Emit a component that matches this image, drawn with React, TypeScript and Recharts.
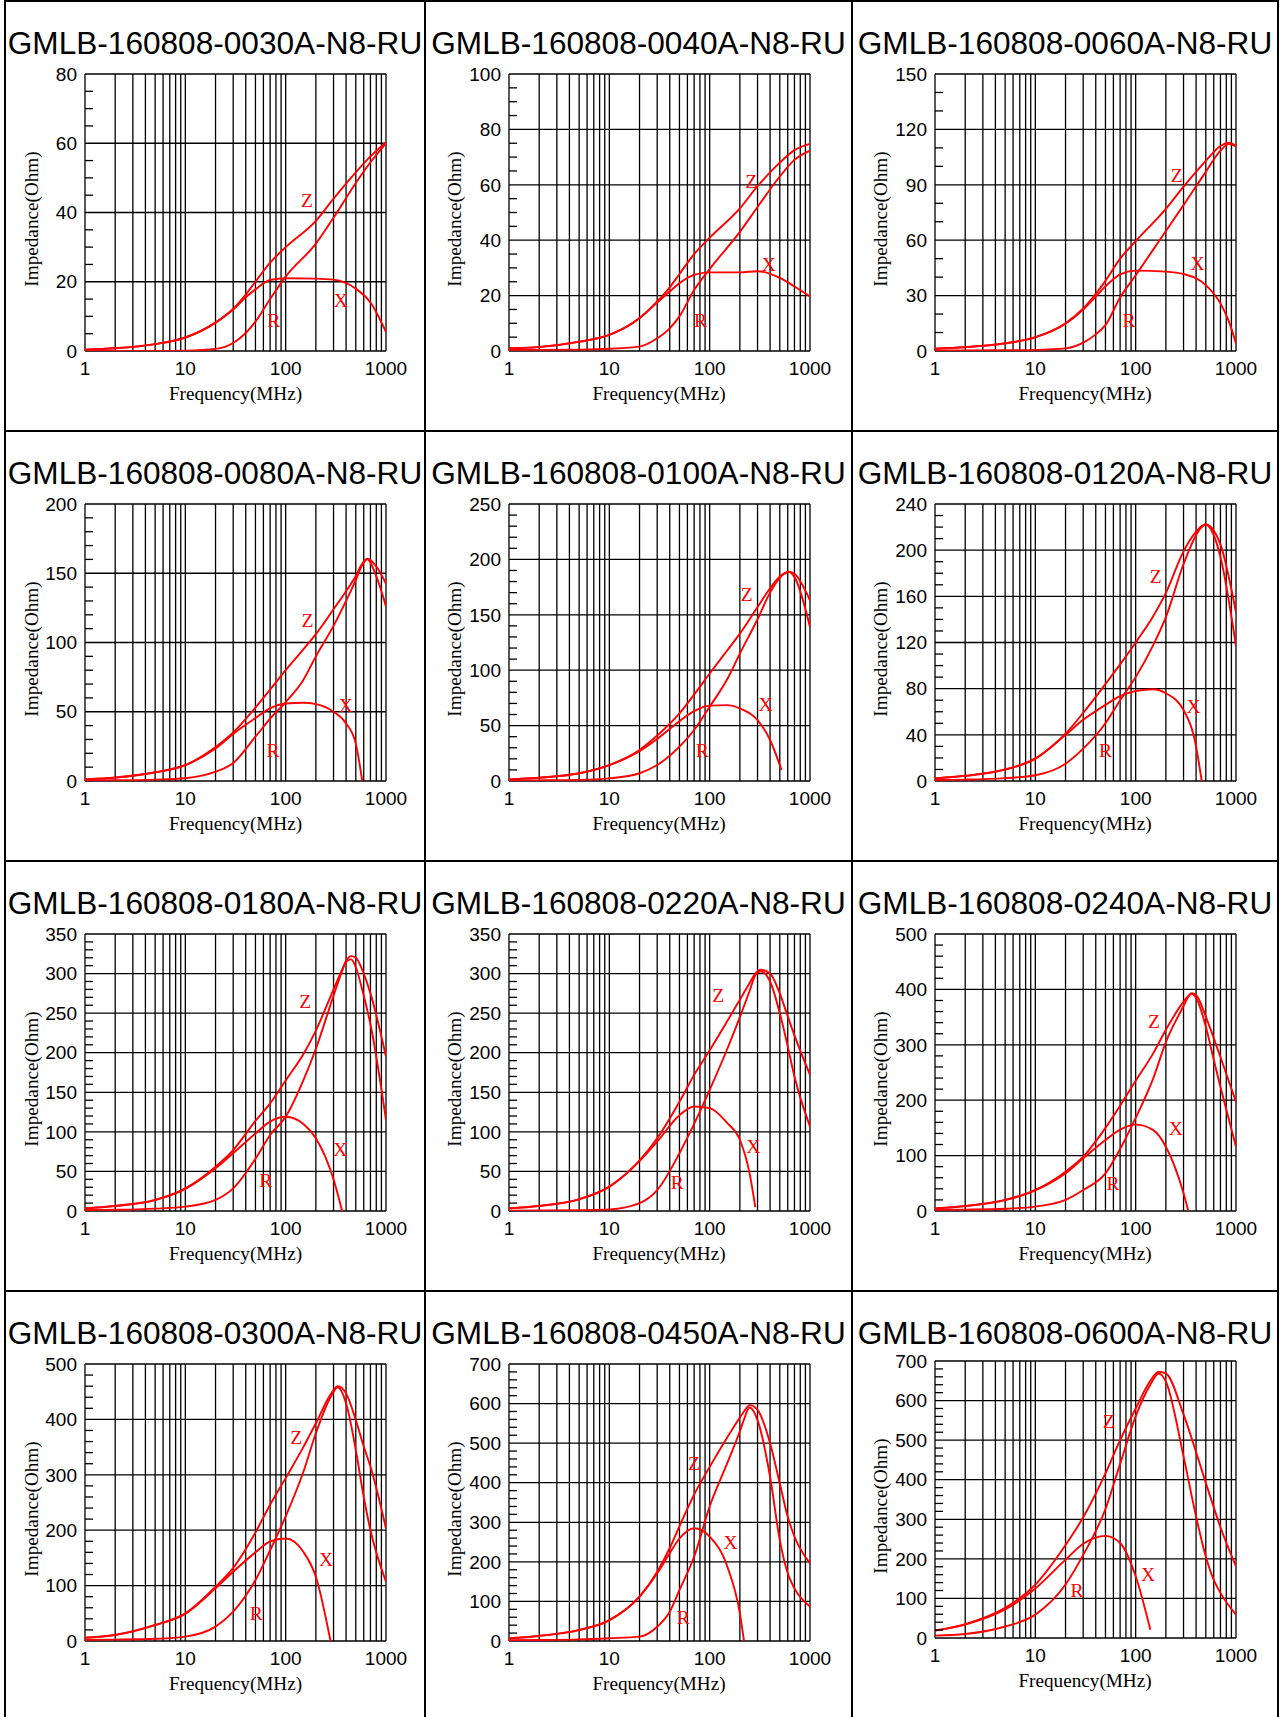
import React from "react"
import { LineChart, Line, XAxis, YAxis, CartesianGrid, ReferenceLine, ReferenceDot } from "recharts"

const SANS = '"Liberation Sans", Arial, sans-serif'
const SERIF = '"Liberation Serif", "Times New Roman", serif'
const RED = "#ff0000"

// log grid: 1..9 of every decade, labels only on decades
const FREQ_GRID = [1, 2, 3, 4, 5, 6, 7, 8, 9, 10, 20, 30, 40, 50, 60, 70, 80, 90, 100, 200, 300, 400, 500, 600, 700, 800, 900, 1000]
const FREQ_LABELS = [1, 10, 100, 1000]

// ---- 0030
const F_0030 = [1, 2, 5, 10, 20, 30, 40, 50, 70, 100, 200, 300, 500, 700, 1000]
const Z_0030 = [0.4, 0.8, 2.0, 3.9, 8.2, 12.2, 16.3, 20, 25.5, 30, 37.6, 44, 51.6, 56.2, 60.3]
const R_0030 = [0, 0, 0, 0.1, 0.6, 2.3, 5.2, 8.5, 15, 21.5, 31, 38.5, 48.5, 54.5, 60]
const X_0030 = [0.4, 0.8, 2.0, 3.9, 8.2, 12, 15.5, 17.8, 20.5, 21, 20.9, 20.6, 18, 14, 5.5]
const LBL_0030 = [[163, 43.6], [76, 9], [355, 14.7]]

// ---- 0040
const F_0040 = [1, 2, 5, 10, 20, 30, 40, 50, 70, 100, 200, 300, 500, 700, 1000]
const Z_0040 = [1.0, 1.5, 3.4, 5.8, 11.9, 17.9, 23, 27.8, 35, 40.9, 51.5, 59.5, 68, 72.5, 74.8]
const R_0040 = [0.4, 0.4, 0.5, 0.8, 1.6, 4.6, 8.2, 12.5, 22, 29.6, 43, 52, 63, 69, 72.3]
const X_0040 = [0.9, 1.4, 3.3, 5.8, 11.8, 17.5, 21.5, 24.5, 27.5, 28.4, 28.4, 28.8, 26.4, 23.3, 19.7]
const LBL_0040 = [[260, 61.4], [81, 11.2], [388, 31.2]]

// ---- 0060
const F_0060 = [1, 2, 5, 10, 20, 30, 40, 50, 70, 100, 200, 300, 500, 700, 850, 1000]
const Z_0060 = [1.3, 2.1, 4.2, 7.5, 15, 23, 31, 38, 50, 59.5, 77, 89, 103, 111, 112.8, 111]
const R_0060 = [0.3, 0.3, 0.4, 0.6, 1.4, 4.5, 9, 14, 29, 41, 65, 79, 97, 108.5, 112, 110.8]
const X_0060 = [1.2, 2.0, 4.1, 7.4, 14.8, 22.5, 29.5, 35, 41.5, 43.5, 43, 41.7, 35.7, 25.8, 16, 4]
const LBL_0060 = [[257, 95.3], [86, 16.8], [414, 47.5]]

// ---- 0080
const F_0080 = [1, 2, 5, 10, 20, 30, 50, 70, 100, 150, 200, 300, 400, 500, 580, 650, 800, 1000]
const Z_0080 = [1.2, 2.5, 6.3, 11.5, 24.5, 35, 53, 66, 80, 95, 106, 124, 137, 148, 157, 160.5, 155, 142.5]
const R_0080 = [0.4, 0.5, 1, 2, 6.7, 13, 32, 45, 57, 73, 90, 112, 130, 145, 156, 160, 148, 126]
const X_0080 = [1.1, 2.4, 6.2, 11.4, 23.5, 34, 45.5, 52.5, 56, 56.5, 55.5, 50, 41.6, 27, 0]
const LBL_0080 = [[165, 116], [75, 22.4], [398, 54.9]]

// ---- 0100
const F_0100 = [1, 2, 5, 10, 20, 30, 50, 70, 100, 150, 200, 300, 400, 520, 620, 700, 1000]
const Z_0100 = [1.5, 3, 7, 14.4, 28, 41, 61, 78, 97, 118, 133, 157, 174, 186, 189, 187, 163]
const R_0100 = [0.5, 0.6, 1, 2.4, 7, 14.4, 31, 46, 67, 92, 115, 146, 170, 185, 188.5, 184, 139]
const X_0100 = [1.4, 2.9, 6.9, 14.3, 27, 38, 54, 63, 68, 68.5, 65.5, 55, 37, 10]
const LBL_0100 = [[234, 168.8], [84.5, 28], [361, 69.5]]

// ---- 0120
const F_0120 = [1, 2, 5, 10, 20, 30, 50, 70, 100, 150, 200, 300, 400, 455, 500, 600, 700, 1000]
const Z_0120 = [2.3, 4.5, 10, 19.6, 41, 59, 84, 101, 120, 143, 163, 199, 216, 221, 222.5, 217, 205, 146]
const R_0120 = [0.9, 1.2, 2.5, 5, 15, 28, 50, 70, 90, 118, 142, 188, 213, 220, 222, 213, 194, 117]
const X_0120 = [2.2, 4.4, 9.8, 19.2, 40, 53, 66, 73.5, 78, 79.5, 76, 61.5, 30, 0]
const LBL_0120 = [[158.5, 177.6], [50, 26.9], [377, 65]]

// ---- 0180
const F_0180 = [1, 2, 5, 10, 20, 30, 50, 70, 100, 150, 200, 300, 365, 400, 450, 500, 600, 700, 1000]
const Z_0180 = [3.4, 6.5, 14, 28.6, 56, 77, 114, 136, 165, 198, 228, 280, 305, 316, 322, 320, 300, 275, 195]
const R_0180 = [1.3, 1.6, 3, 5.5, 14, 28.6, 66, 96, 119, 165, 205, 272, 303, 315, 318, 308, 272, 236, 115]
const X_0180 = [3.2, 6.3, 13.8, 28, 54, 73, 98, 113, 119, 110, 92, 40, 0]
const LBL_0180 = [[156.6, 264.5], [63.5, 39], [350, 78]]

// ---- 0220
const F_0220 = [1, 2, 5, 10, 20, 30, 50, 70, 100, 150, 200, 250, 285, 320, 400, 500, 600, 700, 1000]
const Z_0220 = [3.4, 6.5, 15, 31, 64, 92, 138, 172, 203, 240, 267, 288, 300, 305, 300, 275, 246, 222, 172]
const R_0220 = [0.5, 0.6, 1, 2, 10, 26.5, 73, 110, 153, 205, 245, 278, 298, 303, 290, 250, 208, 170, 106.6]
const X_0220 = [3.3, 6.4, 14.8, 30.5, 63, 87.6, 121, 132, 130, 111, 90, 47.6, 5]
const LBL_0220 = [[122, 273], [47.6, 35.8], [272, 82]]

// ---- 0240
const F_0240 = [1, 2, 5, 10, 20, 30, 50, 70, 100, 150, 200, 300, 335, 360, 400, 500, 600, 700, 1000]
const Z_0240 = [4.8, 9, 20, 38, 71, 98, 150, 190, 235, 285, 327, 378, 388, 393, 390, 351, 312, 278, 197]
const R_0240 = [2, 2.5, 4, 8, 20, 38, 68, 112, 168, 240, 305, 370, 387, 392, 385, 333, 273, 224, 116]
const X_0240 = [4.5, 8.8, 19.6, 37, 68, 95, 128, 147, 156, 146, 116, 32, 0]
const LBL_0240 = [[152.5, 341.8], [59.3, 51], [251, 149]]

// ---- 0300
const F_0300 = [1, 2, 5, 10, 20, 30, 50, 70, 100, 150, 200, 280, 330, 400, 500, 600, 700, 1000]
const Z_0300 = [6, 11, 29, 50, 98, 132, 196, 246, 294, 350, 393, 445, 460, 447, 399, 351, 315, 203]
const R_0300 = [2, 2.5, 4, 8, 26, 53, 110, 164, 225, 305, 375, 440, 458, 429, 345, 260, 200, 107]
const X_0300 = [5.8, 10.8, 28.5, 49, 95, 125, 160, 180, 185, 161, 116, 0]
const LBL_0300 = [[127.4, 368.8], [50.8, 51], [252, 147.4]]

// ---- 0450
const F_0450 = [1, 2, 5, 10, 20, 30, 40, 50, 70, 100, 150, 200, 220, 250, 300, 400, 500, 600, 700, 1000]
const Z_0450 = [7, 13, 28, 53, 112, 175, 235, 290, 370, 440, 515, 565, 580, 596, 584, 500, 398, 314, 264, 196]
const R_0450 = [2, 2.5, 4, 7, 11, 36, 74, 129, 213, 340, 450, 530, 560, 590, 558, 415, 255, 171, 133, 87]
const X_0450 = [6.8, 12.8, 27.5, 52, 112, 171, 222, 259, 285, 264, 188, 70, 0]
const LBL_0450 = [[69.8, 449], [54.7, 59.8], [161.9, 251]]

// ---- 0600
const F_0600 = [1, 2, 5, 10, 20, 30, 50, 70, 100, 140, 170, 200, 300, 400, 500, 600, 700, 1000]
const Z_0600 = [19, 35, 76, 135, 235, 305, 416, 500, 580, 650, 673, 669, 565, 470, 392, 330, 280, 181]
const R_0600 = [6, 10, 29, 59, 135, 210, 326, 440, 560, 640, 668, 648, 459, 307, 206, 147, 114, 59]
const X_0600 = [18.5, 34, 72, 125, 198, 238, 258, 240, 156, 21]
const LBL_0600 = [[53.9, 547], [26, 120], [133, 162]]

const PARTS = [
  { name: "GMLB-160808-0030A-N8-RU", yMax: 80, yMajor: 20, yMinor: 5, f: F_0030, z: Z_0030, r: R_0030, x: X_0030, lbl: LBL_0030 },
  { name: "GMLB-160808-0040A-N8-RU", yMax: 100, yMajor: 20, yMinor: 5, f: F_0040, z: Z_0040, r: R_0040, x: X_0040, lbl: LBL_0040 },
  { name: "GMLB-160808-0060A-N8-RU", yMax: 150, yMajor: 30, yMinor: 10, f: F_0060, z: Z_0060, r: R_0060, x: X_0060, lbl: LBL_0060 },
  { name: "GMLB-160808-0080A-N8-RU", yMax: 200, yMajor: 50, yMinor: 10, f: F_0080, z: Z_0080, r: R_0080, x: X_0080, lbl: LBL_0080 },
  { name: "GMLB-160808-0100A-N8-RU", yMax: 250, yMajor: 50, yMinor: 10, f: F_0100, z: Z_0100, r: R_0100, x: X_0100, lbl: LBL_0100 },
  { name: "GMLB-160808-0120A-N8-RU", yMax: 240, yMajor: 40, yMinor: 10, f: F_0120, z: Z_0120, r: R_0120, x: X_0120, lbl: LBL_0120 },
  { name: "GMLB-160808-0180A-N8-RU", yMax: 350, yMajor: 50, yMinor: 10, f: F_0180, z: Z_0180, r: R_0180, x: X_0180, lbl: LBL_0180 },
  { name: "GMLB-160808-0220A-N8-RU", yMax: 350, yMajor: 50, yMinor: 10, f: F_0220, z: Z_0220, r: R_0220, x: X_0220, lbl: LBL_0220 },
  { name: "GMLB-160808-0240A-N8-RU", yMax: 500, yMajor: 100, yMinor: 20, f: F_0240, z: Z_0240, r: R_0240, x: X_0240, lbl: LBL_0240 },
  { name: "GMLB-160808-0300A-N8-RU", yMax: 500, yMajor: 100, yMinor: 20, f: F_0300, z: Z_0300, r: R_0300, x: X_0300, lbl: LBL_0300 },
  { name: "GMLB-160808-0450A-N8-RU", yMax: 700, yMajor: 100, yMinor: 20, f: F_0450, z: Z_0450, r: R_0450, x: X_0450, lbl: LBL_0450 },
  { name: "GMLB-160808-0600A-N8-RU", yMax: 700, yMajor: 100, yMinor: 20, f: F_0600, z: Z_0600, r: R_0600, x: X_0600, lbl: LBL_0600 },
]

// page layout
const PAGE_W = 1285
const PAGE_H = 1717
const ROW_TOP = [0, 430, 860, 1290]
const COL_LINES = [5, 425, 852, 1278]
const PLOT_LEFT = [85, 508.5, 934.5]
const CHART_DY = [0, 0, 0, 0, 0, 0, 0, 0, 0, 0, 0, -3] // last plot sits a little higher
const PLOT_W = 301
const PLOT_TOP = 74
const PLOT_H = 277
const Y_AXIS_W = 82
const CELL_H = 430
const RIGHT_PAD = 32
const CHART_W = Y_AXIS_W + PLOT_W + RIGHT_PAD
const TICK_FONT = 19
const GRID_W = 1.3

const range = (max: number, step: number) => {
  const out: number[] = []
  for (let v = 0; v <= max + 1e-9; v += step) out.push(v)
  return out
}

const XTick = (p: any) => {
  const v = p.payload.value
  if (!FREQ_LABELS.includes(v)) return <g />
  return (
    <text x={p.x} y={p.y + 23.5} textAnchor="middle" fontFamily={SANS} fontSize={TICK_FONT} fill="#000">
      {v}
    </text>
  )
}

const YTick = (p: any) => {
  const v = p.payload.value
  if (v % p.major === 0) {
    return (
      <text x={p.x - 8} y={p.y} dy="0.355em" textAnchor="end" fontFamily={SANS} fontSize={TICK_FONT} fill="#000">
        {v}
      </text>
    )
  }
  return <line x1={p.x} x2={p.x + 8} y1={p.y} y2={p.y} stroke="#000" strokeWidth={GRID_W} />
}

function ImpedanceChart({ part }: { part: any }) {
  const pts = (vals: number[]) => vals.map((v, i) => ({ f: part.f[i], v }))
  const majors = range(part.yMax, part.yMajor)
  const minors = range(part.yMax, part.yMinor)
  const names = ["Z", "R", "X"]

  return (
    <LineChart width={CHART_W} height={CELL_H} margin={{ top: PLOT_TOP, right: RIGHT_PAD, bottom: 0, left: 0 }}>
      <CartesianGrid horizontal={false} stroke="#000" strokeWidth={GRID_W} />
      <XAxis
        type="number"
        dataKey="f"
        scale="log"
        domain={[1, 1000]}
        ticks={FREQ_GRID}
        interval={0}
        allowDataOverflow
        axisLine={false}
        tickLine={false}
        tickSize={0}
        tickMargin={0}
        height={CELL_H - PLOT_TOP - PLOT_H}
        tick={XTick}
      />
      <YAxis
        type="number"
        domain={[0, part.yMax]}
        ticks={minors}
        interval={0}
        allowDataOverflow
        axisLine={false}
        tickLine={false}
        tickSize={0}
        tickMargin={0}
        width={Y_AXIS_W}
        tick={(p: any) => <YTick {...p} major={part.yMajor} />}
      />
      {majors.map((v) => (
        <ReferenceLine key={v} y={v} stroke="#000" strokeWidth={GRID_W} />
      ))}
      <Line data={pts(part.z)} dataKey="v" type="monotone" stroke={RED} strokeWidth={1.9} dot={false} isAnimationActive={false} />
      <Line data={pts(part.r)} dataKey="v" type="monotone" stroke={RED} strokeWidth={1.9} dot={false} isAnimationActive={false} />
      <Line data={pts(part.x)} dataKey="v" type="monotone" stroke={RED} strokeWidth={1.9} dot={false} isAnimationActive={false} />
      {part.lbl.map((l: number[], i: number) => (
        <ReferenceDot
          key={names[i]}
          x={l[0]}
          y={l[1]}
          r={0}
          shape={(p: any) => (
            <text x={p.cx} y={p.cy} dy="0.35em" textAnchor="middle" fontFamily={SERIF} fontSize={19.5} fill={RED}>
              {names[i]}
            </text>
          )}
        />
      ))}
    </LineChart>
  )
}

export default function App() {
  return (
    <div style={{ position: "absolute", left: 0, top: 0, width: PAGE_W, height: PAGE_H, background: "#fff", overflow: "hidden" }}>
      {PARTS.map((part, i) => {
        const col = i % 3
        const row = Math.floor(i / 3)
        return (
          <div key={part.name} style={{ position: "absolute", left: PLOT_LEFT[col] - Y_AXIS_W, top: ROW_TOP[row] + CHART_DY[i] }}>
            <ImpedanceChart part={part} />
          </div>
        )
      })}
      <svg width={PAGE_W} height={PAGE_H} style={{ position: "absolute", left: 0, top: 0, pointerEvents: "none" }}>
        {COL_LINES.map((x) => (
          <line key={"v" + x} x1={x} x2={x} y1={0} y2={PAGE_H} stroke="#000" strokeWidth={2} />
        ))}
        {ROW_TOP.map((y) => (
          <line key={"h" + y} x1={COL_LINES[0] - 1} x2={COL_LINES[3] + 1} y1={y + 1} y2={y + 1} stroke="#000" strokeWidth={2} />
        ))}
        {PARTS.map((part, i) => {
          const col = i % 3
          const row = Math.floor(i / 3)
          const top = ROW_TOP[row]
          const cy = top + CHART_DY[i]
          const cx = (COL_LINES[col] + COL_LINES[col + 1]) / 2
          const pl = PLOT_LEFT[col]
          return (
            <g key={part.name}>
              <text x={cx} y={top + 54} textAnchor="middle" fontFamily={SANS} fontSize={31.6} fill="#000">
                {part.name}
              </text>
              <text x={pl + PLOT_W / 2} y={cy + 400} textAnchor="middle" fontFamily={SERIF} fontSize={19.2} fill="#000">
                Frequency(MHz)
              </text>
              <text
                transform={`translate(${pl - 47.5},${cy + PLOT_TOP + PLOT_H / 2 + 6.5}) rotate(-90)`}
                textAnchor="middle"
                fontFamily={SERIF}
                fontSize={19.2}
                fill="#000"
              >
                Impedance(Ohm)
              </text>
            </g>
          )
        })}
      </svg>
    </div>
  )
}
